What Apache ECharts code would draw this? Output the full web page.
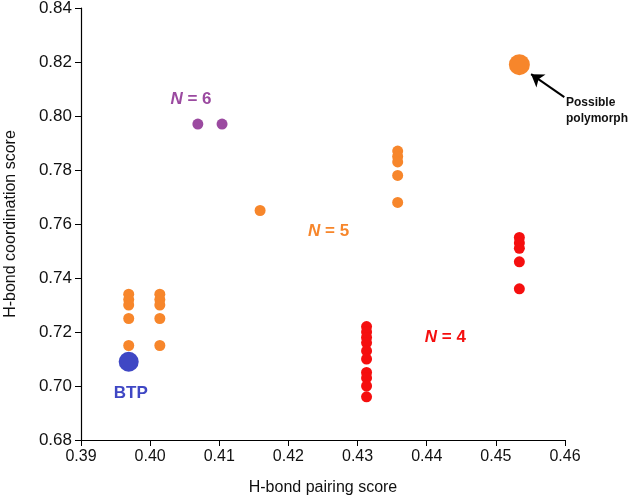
<!DOCTYPE html>
<html>
<head>
<meta charset="utf-8">
<script src="https://cdn.jsdelivr.net/npm/echarts@6/dist/echarts.min.js"></script>
<style>
  html, body { margin: 0; padding: 0; background: #fff; }
  #chart { width: 640px; height: 503px; }
</style>
</head>
<body>
<div id="chart"></div>
<script>
// axis ticks
const xTicks = [0.39, 0.40, 0.41, 0.42, 0.43, 0.44, 0.45, 0.46];
const yTicks = [0.68, 0.70, 0.72, 0.74, 0.76, 0.78, 0.80, 0.82, 0.84];

// N = 6 structures
const n6X = [0.4069, 0.4104];
const n6Y = [0.797, 0.797];

// N = 5 structures
const n5X = [0.3969, 0.3969, 0.3969, 0.3969, 0.3969,
             0.4014, 0.4014, 0.4014, 0.4014, 0.4014,
             0.4159,
             0.4358, 0.4358, 0.4358, 0.4358, 0.4358];
const n5Y = [0.734, 0.732, 0.730, 0.725, 0.715,
             0.734, 0.732, 0.730, 0.725, 0.715,
             0.765,
             0.787, 0.785, 0.783, 0.778, 0.768];

// N = 4 structures
const n4X = [0.4313, 0.4313, 0.4313, 0.4313, 0.4313, 0.4313, 0.4313, 0.4313, 0.4313, 0.4313,
             0.4534, 0.4534, 0.4534, 0.4534, 0.4534];
const n4Y = [0.722, 0.720, 0.718, 0.716, 0.713, 0.710, 0.705, 0.703, 0.700, 0.696,
             0.755, 0.753, 0.751, 0.746, 0.736];

// highlighted points
const btp = [0.3969, 0.709];
const polymorph = [0.4534, 0.819];

const ORANGE = '#f7862b';
const RED = '#f50f0f';
const PURPLE = '#9b4aa0';
const BLUE = '#3f47c4';

const zip = (xs, ys) => xs.map((x, i) => [x, ys[i]]);
const font = 'Liberation Sans, Arial, sans-serif';

const labelSeries = (pos, text, color) => ({
  type: 'scatter',
  data: [pos],
  symbolSize: 0,
  silent: true,
  clip: false,
  itemStyle: { opacity: 1 },
  label: {
    show: true,
    position: 'inside',
    formatter: text,
    color: color,
    opacity: 1,
    fontFamily: font,
    fontSize: 17,
    fontWeight: 'bold',
    rich: {
      i: { fontStyle: 'italic', fontWeight: 'bold', fontSize: 17, color: color, fontFamily: font }
    }
  }
});

const dots = (data, size, color) => ({
  type: 'scatter', data: data, symbolSize: size,
  itemStyle: { color: color, opacity: 1 }
});

const chart = echarts.init(document.getElementById('chart'));
chart.setOption({
  animation: false,
  grid: { left: 81, right: 75, top: 8, bottom: 63, outerBoundsMode: 'none', containLabel: false },
  xAxis: {
    type: 'value',
    min: xTicks[0],
    max: xTicks[xTicks.length - 1],
    interval: 0.01,
    name: 'H-bond pairing score',
    nameLocation: 'middle',
    nameGap: 40,
    nameTextStyle: { fontFamily: font, fontSize: 16, color: '#111' },
    axisLine: { lineStyle: { color: '#000', width: 1.2 } },
    axisTick: { show: true, length: 6, lineStyle: { color: '#000' } },
    axisLabel: { fontFamily: font, fontSize: 16, color: '#111', margin: 9,
      formatter: v => v.toFixed(2) },
    splitLine: { show: false }
  },
  yAxis: {
    type: 'value',
    min: yTicks[0],
    max: yTicks[yTicks.length - 1],
    interval: 0.02,
    name: 'H-bond coordination score',
    nameLocation: 'middle',
    nameGap: 62,
    nameTextStyle: { fontFamily: font, fontSize: 16, color: '#111' },
    axisLine: { show: true, lineStyle: { color: '#000', width: 1.2 } },
    axisTick: { show: true, length: 6, lineStyle: { color: '#000' } },
    axisLabel: { fontFamily: font, fontSize: 17, color: '#111', margin: 9,
      formatter: v => v.toFixed(2) },
    splitLine: { show: false }
  },
  series: [
    dots(zip(n5X, n5Y), 11, ORANGE),
    dots(zip(n4X, n4Y), 11, RED),
    dots(zip(n6X, n6Y), 11, PURPLE),
    dots([btp], 20, BLUE),
    Object.assign(dots([polymorph], 21, ORANGE), {
      markLine: {
        silent: true,
        symbol: ['none', 'arrow'],
        symbolSize: 12,
        label: { show: false },
        lineStyle: { color: '#000', width: 2, type: 'solid' },
        data: [[{ coord: [0.4599, 0.807] }, { coord: [0.4551, 0.8155] }]]
      }
    }),
    labelSeries([0.4059, 0.8063], '{i|N} = 6', PURPLE),
    labelSeries([0.4258, 0.7574], '{i|N} = 5', ORANGE),
    labelSeries([0.4427, 0.7181], '{i|N} = 4', RED),
    labelSeries([0.3972, 0.6974], 'BTP', BLUE)
  ],
  graphic: [{
    type: 'text',
    left: 566,
    top: 95,
    style: {
      text: 'Possible\npolymorph',
      fontFamily: font,
      fontSize: 12,
      fontWeight: 'bold',
      lineHeight: 16,
      fill: '#111'
    }
  }]
});
</script>
</body>
</html>
